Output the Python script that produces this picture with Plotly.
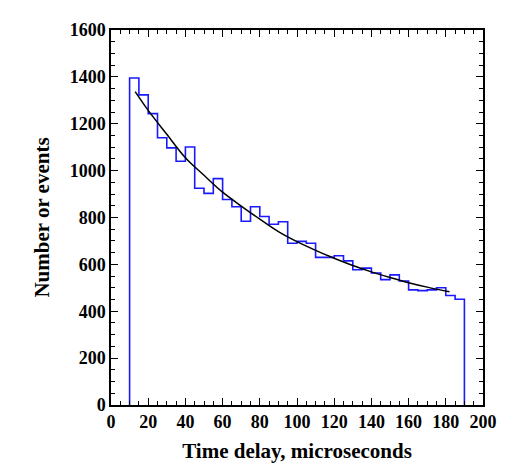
import plotly.graph_objects as go

# histogram of time delays, 5 us bins from 10 to 190
bin_start = 10
bin_width = 5
counts = [1395, 1323, 1243, 1140, 1097, 1040, 1101, 925, 903, 966,
          877, 846, 784, 846, 804, 771, 782, 690, 698, 690,
          630, 630, 637, 615, 577, 584, 563, 535, 555, 529,
          491, 488, 491, 500, 467, 451]

# fitted decay curve
fit_t = [13, 20, 30, 40, 50, 60, 70, 80, 90, 100, 110, 120, 130, 140, 150, 160, 170, 182]
fit_n = [1337, 1257, 1155, 1055, 980, 908, 849, 793, 740, 697, 660, 626, 595, 568, 544, 522, 503, 483]

edges = [bin_start + i * bin_width for i in range(len(counts))]
bin_end = bin_start + bin_width * len(counts)
step_x = [bin_start] + edges + [bin_end]
step_y = [0] + counts + [0]

font = dict(family='Liberation Serif', color='black', weight='bold')

fig = go.Figure()
fig.add_trace(go.Scatter(x=step_x, y=step_y, mode='lines', line_shape='hv',
                         line=dict(color='#1a1aff', width=1.6)))
fig.add_trace(go.Scatter(x=fit_t, y=fit_n, mode='lines', line_shape='spline',
                         line=dict(color='black', width=1.5)))

axis_style = dict(showline=True, linecolor='black', linewidth=1.5, mirror='ticks',
                  ticks='inside', ticklen=7, tickwidth=1.2, tickcolor='black',
                  showgrid=False, zeroline=False,
                  tickfont=dict(size=18, **font))

fig.update_xaxes(range=[0, 200], dtick=20,
                 minor=dict(dtick=5, ticks='inside', ticklen=4, tickcolor='black'),
                 title=dict(text='Time delay, microseconds', font=dict(size=21, **font),
                            standoff=12),
                 **axis_style)
fig.update_yaxes(range=[0, 1600], dtick=200,
                 minor=dict(dtick=50, ticks='inside', ticklen=4, tickcolor='black'),
                 title=dict(text='Number or events', font=dict(size=21, **font),
                            standoff=14),
                 **axis_style)

# page body adds an 8px offset, margins compensate for it
fig.update_layout(
    width=522, height=467,
    margin=dict(l=103, r=47, t=20, b=70),
    plot_bgcolor='white',
    paper_bgcolor='white',
    showlegend=False
)

fig.write_html("out.html")
